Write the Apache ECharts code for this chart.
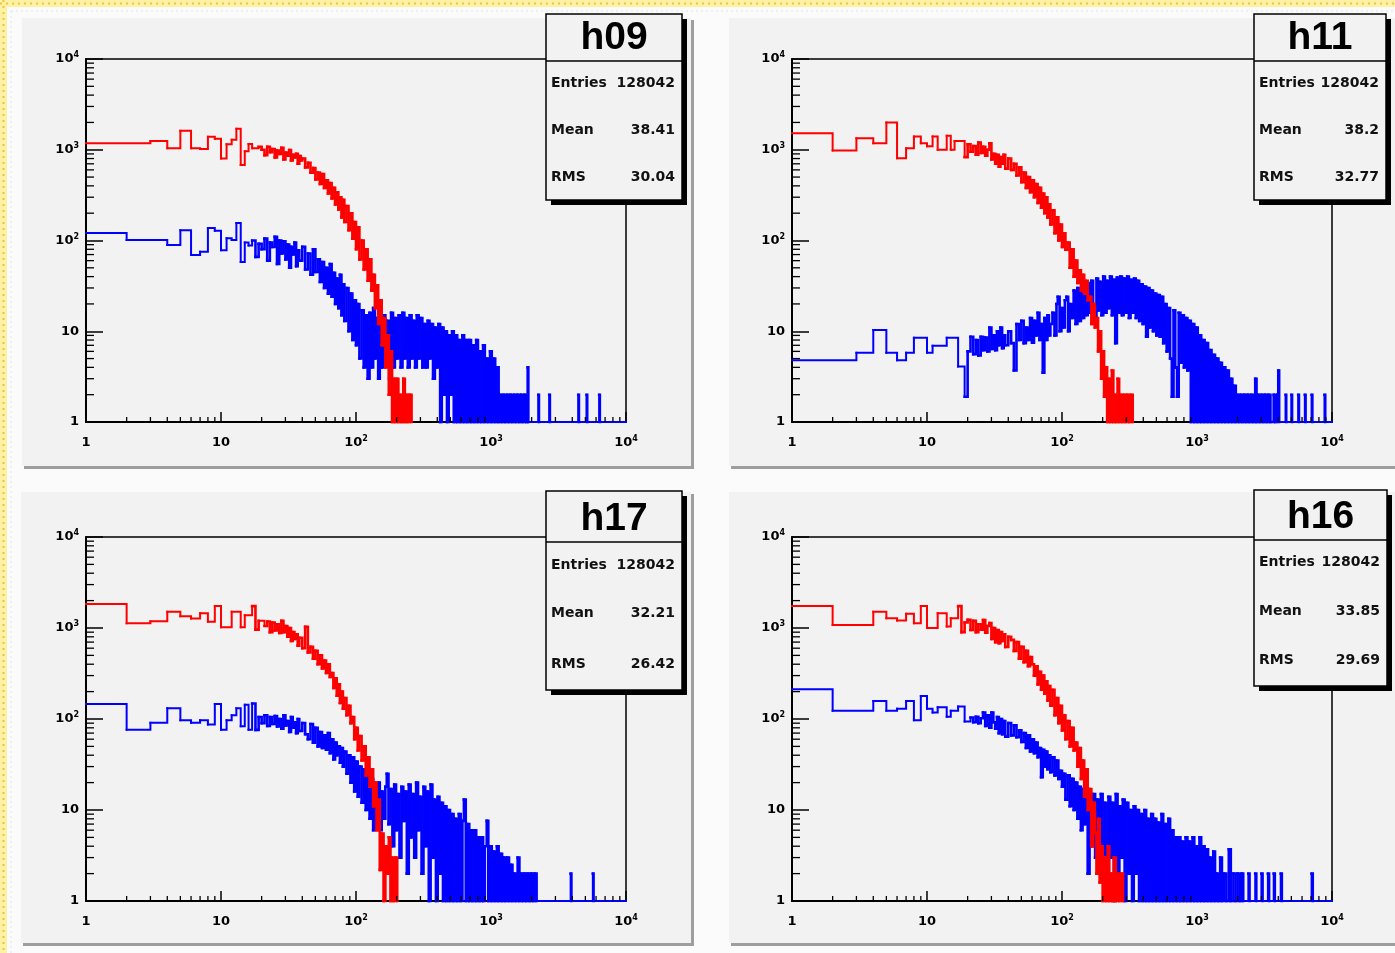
<!DOCTYPE html>
<html>
<head>
<meta charset="utf-8">
<title>h09 h11 h17 h16</title>
<script src="https://cdn.jsdelivr.net/npm/echarts@6/dist/echarts.min.js"></script>
<style>
  html, body { margin: 0; padding: 0; background: #fff; }
  #chart { width: 1395px; height: 953px; }
</style>
</head>
<body>
<div id="chart"></div>
<script>
  // histogram contents, [bin low edge, entries]; empty bins sit on the axis floor (1)
  var h09Red = [[1,1180],[3,1250],[4,1040],[5,1620],[6,1040],[7,1020],[8,1390],[9,1320],[10,800],[11,1150],[12,1290],[13,1700],[14,680],[15,960],[16,1160],[17,1040],[19,1080],[20,1000],[21,870],[22,1080],[23,940],[24,1020],[25,820],[26,980],[27,900],[28,1050],[29,780],[30,930],[31,860],[32,990],[33,760],[34,880],[35,820],[36,900],[37,700],[38,850],[39,760],[40,800],[42,640],[44,720],[46,560],[48,630],[50,470],[52,560],[54,420],[56,540],[58,380],[60,460],[62,330],[64,430],[66,290],[68,380],[70,250],[72,340],[74,220],[76,300],[78,180],[80,280],[82,160],[85,240],[88,130],[91,200],[94,105],[97,160],[100,80],[103,140],[106,62],[110,100],[114,48],[118,80],[122,36],[126,62],[130,28],[134,42],[138,18],[142,32],[146,12],[150,22],[155,7],[160,14],[165,4],[170,9],[175,2],[180,6],[185,1],[190,3],[195,1],[200,3],[206,1],[212,2],[218,1],[224,3],[230,1],[236,2],[242,1],[250,2],[258,1]];
  var h09Blue = [[1,121],[2,101],[4,89],[5,130],[6,69],[7,75],[8,137],[9,128],[10,78],[11,106],[12,101],[13,156],[14,58],[15,95],[16,88],[17,100],[18,66],[19,92],[20,80],[21,105],[22,60],[23,95],[24,85],[25,110],[26,55],[27,100],[28,72],[29,98],[30,62],[31,90],[32,50],[33,85],[34,70],[35,95],[36,52],[37,78],[38,60],[40,85],[42,48],[44,72],[46,42],[48,80],[50,45],[52,62],[54,35],[56,58],[58,30],[60,50],[62,26],[64,55],[66,24],[68,44],[70,20],[72,38],[74,18],[76,42],[78,15],[80,33],[82,13],[85,30],[88,10],[91,26],[94,8],[97,22],[100,7],[103,20],[106,5],[110,17],[114,4],[118,15],[122,3],[126,16],[130,4],[134,18],[138,5],[142,14],[146,3],[150,16],[155,4],[160,15],[165,5],[170,13],[176,3],[182,16],[188,4],[194,14],[200,5],[207,15],[214,4],[221,16],[228,5],[235,14],[242,4],[250,15],[258,5],[266,13],[274,4],[282,15],[291,5],[300,14],[310,4],[320,12],[330,4],[340,13],[350,5],[360,12],[372,3],[384,11],[396,4],[408,12],[420,1],[432,11],[445,2],[458,10],[472,1],[486,9],[500,2],[515,10],[530,1],[546,9],[562,1],[579,8],[596,1],[614,9],[632,1],[651,8],[670,1],[690,8],[711,1],[732,7],[754,1],[777,8],[800,1],[824,6],[849,1],[874,7],[900,1],[927,5],[955,1],[984,6],[1013,1],[1043,5],[1074,1],[1106,4],[1139,1],[1173,2],[1208,1],[1244,2],[1281,1],[1320,2],[1360,1],[1400,2],[1442,1],[1485,2],[1530,1],[1576,2],[1623,1],[1672,2],[1722,1],[1774,2],[1827,1],[1870,4],[1890,1],[2240,2],[2265,1],[2700,2],[2730,1],[4430,2],[4480,1],[5100,2],[5160,1],[6330,2],[6400,1],[10000,1]];

  var h11Red = [[1,1520],[2,980],[3,1340],[4,1180],[5,2000],[6,805],[7,1040],[8,1400],[9,1180],[10,1090],[11,1400],[12,1000],[14,1430],[15,1000],[16,1250],[19,830],[20,1150],[21,950],[22,1100],[23,880],[24,1200],[25,920],[26,1080],[27,860],[28,1000],[29,1180],[30,780],[31,900],[32,700],[33,880],[34,650],[35,830],[36,700],[37,880],[38,620],[40,800],[42,600],[44,700],[46,520],[48,640],[50,440],[52,560],[54,380],[56,500],[58,340],[60,460],[62,300],[64,420],[66,260],[68,380],[70,230],[72,330],[74,200],[76,300],[78,180],[80,250],[82,150],[85,215],[88,120],[91,180],[94,100],[97,150],[100,85],[103,120],[106,79],[110,95],[114,50],[118,80],[122,40],[126,60],[130,34],[134,47],[138,28],[142,42],[146,26],[150,36],[155,22],[160,24],[165,12],[170,20],[175,11],[180,14],[185,6],[190,10],[195,3],[200,6],[205,1.9],[210,4],[216,1],[222,3],[228,1],[234,3.7],[240,1],[246,2],[252,1],[258,3],[265,1],[272,2],[280,1],[288,2],[296,1],[305,2],[314,1],[325,2],[334,1]];
  var h11Blue = [[1,4.8],[3,5.8],[4,10.3],[5,5.8],[6,4.8],[7,5.8],[8,8.5],[10,5.8],[11,6.9],[14,8.5],[17,4.1],[19,1.9],[20,6],[21,8.7],[22,5.6],[23,8],[24,5.4],[25,8.7],[26,6.2],[27,8.5],[28,6],[29,11],[30,6.4],[31,9],[32,6.2],[33,10],[34,7],[35,11],[36,6.5],[37,9],[38,7],[40,10],[42,7.4],[44,3.7],[46,12],[48,8],[50,13],[52,7.4],[54,11],[56,8],[58,14],[60,7.5],[62,13],[64,9],[66,16],[68,8],[70,12],[72,3.5],[74,14],[76,8],[78,15],[80,9],[82,12],[85,16],[88,9],[91,20],[93,24],[96,10],[99,18],[102,11],[105,22],[108,24],[111,10],[114,20],[118,14],[122,28],[126,12],[130,30],[134,13],[138,26],[142,14],[146,32],[150,15],[155,34],[160,16],[165,36],[170,14],[175,12],[180,38],[185,17],[190,35],[196,15],[202,40],[208,16],[214,36],[220,18],[227,40],[234,15],[241,37],[248,7.4],[255,39],[262,16],[270,40],[278,15],[286,38],[295,16],[304,40],[313,14],[322,37],[332,16],[342,38],[352,14],[362,36],[373,13],[384,33],[396,12],[408,31],[420,8.7],[432,30],[445,11],[458,28],[472,10],[486,26],[500,9],[515,25],[530,8.7],[546,24],[562,7.4],[579,20],[596,6],[614,18],[632,5],[651,1.9],[670,17],[690,4],[711,1.9],[732,16],[754,4.5],[777,15],[800,4],[824,14],[849,3.7],[874,13],[900,1],[927,12],[955,1],[984,11],[1013,1],[1043,9],[1074,1],[1106,8],[1139,1],[1173,7.4],[1208,1],[1244,6.2],[1281,1],[1320,5.5],[1360,1],[1400,5],[1442,1],[1485,4.5],[1530,1],[1576,4],[1623,1],[1672,3.7],[1722,1],[1774,3],[1827,1],[1882,2.5],[1938,1],[1996,2],[2056,1],[2118,2],[2181,1],[2247,2],[2314,1],[2383,2],[2455,1],[2528,2],[2604,1],[2700,3],[2760,1],[2846,2],[2931,1],[3020,2],[3110,1],[3200,2],[3300,1],[3400,2],[3500,1],[3700,2],[3800,1],[3930,2],[4000,3.7],[4060,1],[4530,2],[4580,1],[5000,2],[5060,1],[5620,2],[5690,1],[6290,2],[6370,1],[7060,2],[7150,1],[8800,2],[8910,1],[10000,1]];

  var h17Red = [[1,1830],[2,1130],[3,1190],[4,1510],[5,1350],[6,1270],[7,1450],[8,1170],[9,1740],[10,1020],[12,1510],[14,1020],[15,1380],[17,1740],[18,960],[19,1200],[21,1050],[22,1180],[23,900],[24,1150],[25,940],[26,1100],[27,880],[28,1200],[29,900],[30,1050],[31,800],[32,1000],[33,720],[34,900],[35,760],[36,850],[37,640],[38,780],[40,600],[42,1030],[44,540],[46,620],[48,460],[50,560],[52,400],[54,500],[56,360],[58,440],[60,320],[62,400],[64,290],[66,320],[68,220],[70,280],[72,180],[74,240],[76,150],[78,200],[80,130],[82,170],[85,110],[88,140],[91,90],[94,105],[97,60],[100,80],[103,45],[106,65],[110,35],[114,50],[118,24],[122,38],[126,18],[130,28],[134,11],[138,20],[142,6],[146,13],[150,2.2],[155,5.5],[160,1],[165,4],[170,2],[175,5],[180,1],[185,3],[190,1],[196,3],[202,1]];
  var h17Blue = [[1,146],[2,76],[3,91],[4,131],[5,97],[6,91],[7,97],[8,87],[9,146],[10,76],[11,97],[12,110],[13,131],[14,83],[15,143],[16,76],[17,148],[18,76],[19,105],[20,90],[21,110],[22,84],[23,105],[24,88],[25,108],[26,83],[27,100],[28,78],[29,110],[30,85],[31,95],[32,72],[33,105],[34,80],[35,92],[36,70],[37,100],[38,74],[40,90],[42,68],[44,60],[46,88],[48,55],[50,80],[52,50],[54,72],[56,48],[58,66],[60,46],[62,70],[64,42],[66,60],[68,36],[70,55],[72,40],[74,50],[76,33],[78,48],[80,30],[82,44],[85,25],[88,40],[91,20],[94,38],[97,16],[100,34],[103,14],[106,30],[110,12],[114,28],[118,10],[122,24],[126,8],[130,22],[134,6],[138,18],[142,7],[146,20],[150,6],[155,16],[160,8],[165,18],[169,25],[174,7],[180,17],[186,4],[192,19],[198,6],[204,15],[210,3],[217,18],[224,7.6],[231,16],[238,2],[246,19],[254,5],[262,15],[270,3],[279,20],[288,6],[297,14],[306,2],[316,18],[326,4],[336,16],[346,1],[357,19],[368,3],[379,13],[391,1],[403,14],[415,2],[428,12],[441,1],[454,11],[468,1],[482,10],[497,1],[512,9],[528,1],[544,8],[561,1],[578,9],[596,1],[614,7.6],[630,13],[650,1],[670,7],[690,1],[711,6],[732,1],[754,6],[777,1],[800,5],[824,1],[849,5],[874,1],[900,4],[930,7.6],[955,1],[984,4],[1013,1],[1043,3.5],[1074,1],[1106,4],[1139,1],[1173,3.3],[1208,1],[1244,3],[1281,1],[1320,3],[1360,1],[1400,2.5],[1442,1],[1485,2],[1530,1],[1576,3],[1623,1],[1672,2],[1722,1],[1774,2],[1827,1],[1882,2],[1938,1],[1996,2],[2056,1],[2118,2],[2177,1],[3890,2],[3940,1],[5680,2],[5750,1],[10000,1]];

  var h16Red = [[1,1740],[2,1080],[4,1510],[5,1280],[6,1210],[7,1430],[8,1130],[9,1740],[10,1000],[12,1450],[14,1040],[15,1280],[17,1740],[18,900],[19,1150],[20,1230],[21,950],[22,1200],[23,900],[24,1100],[25,960],[26,1220],[27,890],[28,1050],[29,1130],[30,760],[31,1000],[32,700],[33,950],[34,680],[35,900],[36,720],[37,850],[38,620],[40,800],[42,740],[44,560],[46,700],[48,460],[50,620],[52,420],[54,560],[56,380],[58,480],[60,400],[62,300],[64,380],[66,240],[68,330],[70,210],[72,300],[74,190],[76,260],[78,160],[80,230],[82,140],[85,210],[88,110],[91,170],[94,90],[97,140],[100,75],[103,110],[106,60],[110,95],[114,50],[118,80],[122,45],[126,55],[130,30],[134,48],[138,22],[142,35],[146,14],[150,28],[155,10],[160,17],[165,4],[170,12],[175,5.6],[180,2],[185,8],[190,1.6],[195,4],[200,1],[206,3],[212,1],[218,4],[224,1],[230,2],[236,1],[242,3],[250,1],[258,2],[266,1],[275,2],[283,1]];
  var h16Blue = [[1,212],[2,123],[4,158],[5,123],[6,130],[7,158],[8,97],[9,179],[10,130],[11,118],[12,135],[14,106],[15,123],[17,137],[19,94],[21,104],[22,92],[23,106],[24,90],[25,102],[26,118],[27,84],[28,110],[29,80],[30,118],[31,92],[32,78],[33,105],[34,70],[35,100],[36,68],[37,95],[38,64],[40,90],[42,66],[44,85],[46,63],[48,75],[50,56],[52,70],[54,48],[56,66],[58,44],[60,60],[62,42],[64,55],[66,38],[68,48],[70,23],[72,46],[74,30],[76,44],[78,28],[80,40],[82,26],[85,38],[88,24],[91,35],[94,22],[97,27],[100,18],[103,25],[106,13],[110,24],[114,11],[118,22],[122,10],[126,20],[130,8],[134,18],[138,6],[142,17],[146,7],[150,15],[155,2],[160,14],[165,4],[170,15],[176,3],[182,13],[188,2],[194,15],[200,3.2],[207,12],[214,2],[221,14],[228,3],[235,12],[242,1],[250,15],[258,2],[266,11],[274,3],[282,13],[291,1],[300,12],[310,2],[320,10],[330,1],[340,11],[350,2],[360,10],[372,1],[384,9],[396,1],[408,10],[420,1],[432,8],[445,1],[458,9],[472,1],[486,8],[500,1],[515,7.3],[530,1],[546,9],[562,1],[579,7],[596,1],[614,8],[632,1],[651,6],[670,1],[690,5],[711,1],[732,5],[754,1],[777,4.5],[800,1],[824,5],[849,1],[874,4.5],[900,1],[927,5],[955,1],[984,4],[1013,1],[1043,5],[1074,1],[1106,4],[1139,1],[1173,3.7],[1208,1],[1244,3],[1281,1],[1320,3.5],[1360,1],[1400,2],[1442,1],[1485,3],[1530,1],[1590,2],[1650,1],[1720,3.7],[1780,1],[1860,2],[1930,1],[2000,2],[2080,1],[2150,2],[2200,1],[2400,2],[2450,1],[2700,2],[2750,1],[3000,2],[3060,1],[3350,2],[3420,1],[3700,2],[3770,1],[4170,2],[4250,1],[7060,2],[7200,1],[10000,1]];

  var histNames = ['h09', 'h11', 'h17', 'h16'];
  var entries = ['128042', '128042', '128042', '128042'];
  var means = ['38.41', '38.2', '32.21', '33.85'];
  var rmsValues = ['30.04', '32.77', '26.42', '29.69'];
  var redHists = [h09Red, h11Red, h17Red, h16Red];
  var blueHists = [h09Blue, h11Blue, h17Blue, h16Blue];

  // log axis ticks
  var minorTicks = [2,3,4,5,6,7,8,9,20,30,40,50,60,70,80,90,200,300,400,500,600,700,800,900,2000,3000,4000,5000,6000,7000,8000,9000];

  // pad / frame / stats box geometry
  var panels = [
    { grid: [86, 59, 540, 363], pad: [22, 18, 669, 448], box: [546, 14, 136, 186], sep: 61, titleY: 38, rowsY: [83, 130, 177] },
    { grid: [792, 59, 540, 363], pad: [729, 18, 680, 448], box: [1254, 14, 132, 186], sep: 61, titleY: 38, rowsY: [83, 130, 177] },
    { grid: [86, 537, 540, 364], pad: [21, 492, 670, 451], box: [546, 491, 136, 199], sep: 542, titleY: 519, rowsY: [565, 613, 664] },
    { grid: [792, 537, 540, 364], pad: [729, 492, 680, 451], box: [1254, 490, 133, 196], sep: 540, titleY: 517, rowsY: [562, 611, 660] }
  ];

  var FONT = 'DejaVu Sans';

  function powLabel(v) {
    var e = Math.round(Math.log10(v));
    if (e === 0) return '1';
    if (e === 1) return '10';
    return '10{sup|' + e + '}';
  }

  var labelRich = {
    sup: { fontSize: 8, fontWeight: 'bold', fontFamily: FONT, color: '#000', verticalAlign: 'top', lineHeight: 16 }
  };

  // step histogram: each bin draws its top edge and the riser to the next bin;
  // narrow bins get a slightly heavier pen so the dense part reads as a filled band
  function histSeries(data, k, color, z, name) {
    return {
      type: 'custom', name: name, xAxisIndex: k, yAxisIndex: k, silent: true, z: z, clip: false,
      data: data,
      renderItem: function (params, api) {
        var i = params.dataIndex;
        var next = data[i + 1];
        if (!next) return null;
        var a = api.coord([data[i][0], data[i][1]]);
        var b = api.coord([next[0], data[i][1]]);
        var c = api.coord([next[0], next[1]]);
        var w = (b[0] - a[0]) < 3.5 ? 2.6 : 2;
        return {
          type: 'polyline', shape: { points: [a, b, c] },
          style: { stroke: color, fill: null, lineWidth: w, lineCap: 'square', lineJoin: 'miter' }
        };
      }
    };
  }

  var grids = [], xAxes = [], yAxes = [], series = [], graphics = [];

  // page border (yellow dotted) and faint inner dots
  graphics.push({ type: 'rect', z: -20, silent: true, shape: { x: 0, y: 0, width: 1395, height: 7 }, style: { fill: '#fdf1a4' } });
  graphics.push({ type: 'rect', z: -20, silent: true, shape: { x: 0, y: 0, width: 7, height: 953 }, style: { fill: '#fdf1a4' } });
  graphics.push({ type: 'line', z: -19, silent: true, shape: { x1: 0, y1: 3.5, x2: 1395, y2: 3.5 }, style: { stroke: '#f2c53c', lineWidth: 2, lineDash: [2, 4] } });
  graphics.push({ type: 'line', z: -19, silent: true, shape: { x1: 3.5, y1: 0, x2: 3.5, y2: 953 }, style: { stroke: '#f2c53c', lineWidth: 2, lineDash: [2, 4] } });
  graphics.push({ type: 'line', z: -19, silent: true, shape: { x1: 11, y1: 11, x2: 1395, y2: 11 }, style: { stroke: '#e2e2e2', lineWidth: 1, lineDash: [2, 3] } });
  graphics.push({ type: 'line', z: -19, silent: true, shape: { x1: 11, y1: 11, x2: 11, y2: 953 }, style: { stroke: '#e2e2e2', lineWidth: 1, lineDash: [2, 3] } });

  panels.forEach(function (p, k) {
    var pd = p.pad;
    graphics.push({ type: 'rect', z: -10, silent: true, shape: { x: pd[0], y: pd[1], width: pd[2], height: pd[3] }, style: { fill: '#f2f2f2' } });
    graphics.push({ type: 'rect', z: -9, silent: true, shape: { x: pd[0] + 2, y: pd[1] + pd[3], width: pd[2], height: 3 }, style: { fill: '#9e9e9e' } });
    graphics.push({ type: 'rect', z: -9, silent: true, shape: { x: pd[0] + pd[2], y: pd[1] + 2, width: 3, height: pd[3] + 1 }, style: { fill: '#9e9e9e' } });

    grids.push({
      left: p.grid[0], top: p.grid[1], width: p.grid[2], height: p.grid[3],
      show: true, borderColor: '#000', borderWidth: 1.5, backgroundColor: 'transparent',
      containLabel: false, outerBoundsMode: 'none'
    });

    xAxes.push({
      type: 'log', logBase: 10, gridIndex: k, min: 1, max: 10000, position: 'bottom',
      axisLine: { show: true, onZero: false, lineStyle: { color: '#000', width: 2 } },
      axisTick: { show: true, inside: true, length: 10, lineStyle: { color: '#000', width: 1.5 } },
      splitLine: { show: false },
      axisLabel: {
        show: true, margin: 13, color: '#000', fontSize: 13, fontWeight: 'bold', fontFamily: FONT,
        lineHeight: 16, showMinLabel: true, showMaxLabel: true, formatter: powLabel, rich: labelRich
      }
    });
    yAxes.push({
      type: 'log', logBase: 10, gridIndex: k, min: 1, max: 10000, position: 'left',
      axisLine: { show: true, onZero: false, lineStyle: { color: '#000', width: 2 } },
      axisTick: { show: true, inside: true, length: 17, lineStyle: { color: '#000', width: 1.5 } },
      splitLine: { show: false },
      axisLabel: {
        show: true, margin: 7, color: '#000', fontSize: 13, fontWeight: 'bold', fontFamily: FONT,
        lineHeight: 16, showMinLabel: true, showMaxLabel: true, formatter: powLabel, rich: labelRich
      }
    });

    series.push(histSeries(blueHists[k], k, '#0000ff', 3, histNames[k] + ' blue'));
    series.push(histSeries(redHists[k], k, '#ff0000', 4, histNames[k] + ' red'));

    // minor log ticks on bottom axis
    series.push({
      type: 'custom', xAxisIndex: k, yAxisIndex: k, silent: true, z: 5,
      data: minorTicks.map(function (v) { return [v, 1]; }),
      renderItem: function (params, api) {
        var pt = api.coord([api.value(0), api.value(1)]);
        return { type: 'line', shape: { x1: pt[0], y1: pt[1], x2: pt[0], y2: pt[1] - 5 }, style: { stroke: '#000', lineWidth: 1.3 } };
      }
    });
    // minor log ticks on left axis
    series.push({
      type: 'custom', xAxisIndex: k, yAxisIndex: k, silent: true, z: 5,
      data: minorTicks.map(function (v) { return [1, v]; }),
      renderItem: function (params, api) {
        var pt = api.coord([api.value(0), api.value(1)]);
        return { type: 'line', shape: { x1: pt[0], y1: pt[1], x2: pt[0] + 8, y2: pt[1] }, style: { stroke: '#000', lineWidth: 1.3 } };
      }
    });

    // stats box
    var b = p.box;
    graphics.push({ type: 'rect', z: 50, silent: true, shape: { x: b[0] + 5, y: b[1] + 5, width: b[2], height: b[3] }, style: { fill: '#000' } });
    graphics.push({ type: 'rect', z: 51, silent: true, shape: { x: b[0], y: b[1], width: b[2], height: b[3] }, style: { fill: '#f2f2f2', stroke: '#000', lineWidth: 1.5 } });
    graphics.push({ type: 'line', z: 52, silent: true, shape: { x1: b[0], y1: p.sep, x2: b[0] + b[2], y2: p.sep }, style: { stroke: '#000', lineWidth: 1.5 } });
    graphics.push({
      type: 'text', z: 52, silent: true, x: b[0] + b[2] / 2, y: p.titleY,
      style: { text: histNames[k], fontSize: 39, fontWeight: 'bold', fontFamily: 'Liberation Sans', fill: '#000', align: 'center', verticalAlign: 'middle' }
    });
    var rowNames = ['Entries', 'Mean', 'RMS'];
    var rowVals = [entries[k], means[k], rmsValues[k]];
    for (var r = 0; r < 3; r++) {
      graphics.push({
        type: 'text', z: 52, silent: true, x: b[0] + 5, y: p.rowsY[r],
        style: { text: rowNames[r], fontSize: 14, fontWeight: 'bold', fontFamily: FONT, fill: '#111', align: 'left', verticalAlign: 'middle' }
      });
      graphics.push({
        type: 'text', z: 52, silent: true, x: b[0] + b[2] - 7, y: p.rowsY[r],
        style: { text: rowVals[r], fontSize: 14, fontWeight: 'bold', fontFamily: FONT, fill: '#111', align: 'right', verticalAlign: 'middle' }
      });
    }
  });

  var chart = echarts.init(document.getElementById('chart'), null, { renderer: 'canvas' });
  chart.setOption({
    animation: false,
    backgroundColor: '#fbfbfb',
    grid: grids,
    xAxis: xAxes,
    yAxis: yAxes,
    series: series,
    graphic: { elements: graphics }
  });
</script>
</body>
</html>
